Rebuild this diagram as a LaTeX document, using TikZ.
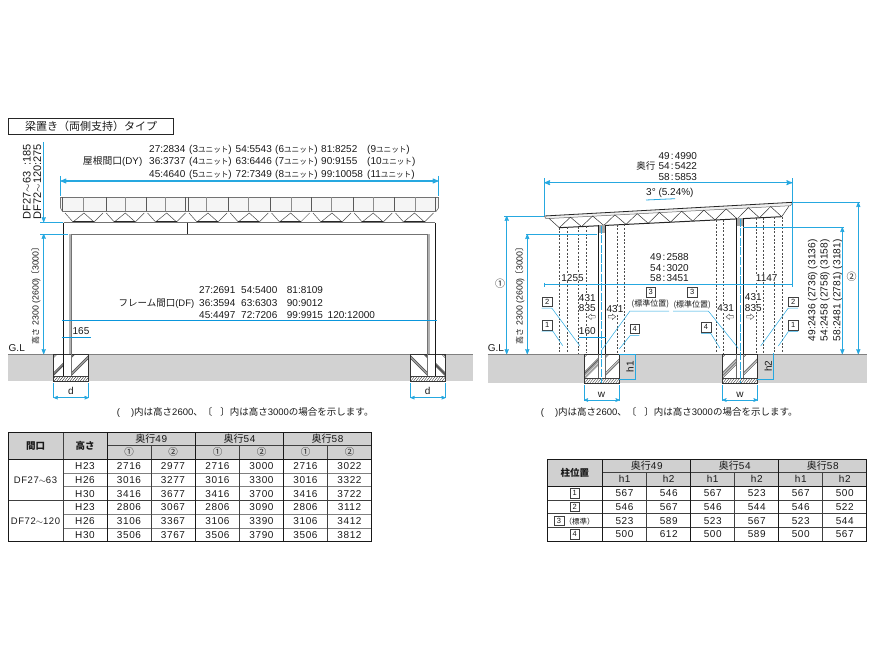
\documentclass[tikz,border=0pt]{standalone}
\usepackage{fontspec}
\setmainfont{Liberation Sans}
\newfontfamily\jp{Noto Sans CJK JP}
\newfontfamily\tabfont[LetterSpace=6]{Liberation Sans}
\usetikzlibrary{arrows}
\definecolor{dimblue}{RGB}{38,168,224}
\definecolor{linkblue}{RGB}{10,150,220}
\definecolor{groundgray}{RGB}{210,210,210}
\definecolor{headgray}{RGB}{208,208,208}
\newcommand{\un}[1]{(#1{\jp\fontsize{7.6}{8}\selectfont ユニット})}
\newcommand{\cln}{\kern1.2pt:\kern1.2pt}
\newcommand{\wave}{\ensuremath{\sim}}
\newcommand{\heighttext}{{\jp\fontsize{8}{9}\selectfont 高さ} 2300 (2600){\jp\kern-1.5pt〔}3000{\jp〕\kern-1.5pt}}
\newcommand{\notetext}{(\hspace{11pt})\jp 内は高さ\rmfamily 2600\jp 、〔\hspace{8pt}〕内は高さ\rmfamily 3000\jp の場合を示します。}
\tikzstyle{lab}=[inner sep=0pt,anchor=west,text height=7.2pt,text depth=0pt,font=\fontsize{10}{10}\selectfont]
\tikzstyle{mid}=[lab,anchor=center]
\tikzstyle{turned}=[mid,rotate=90]
\tikzstyle{note}=[lab,font=\fontsize{9.5}{10}\selectfont]
\tikzstyle{cell}=[mid,font=\fontsize{10}{10}\selectfont\tabfont]
\tikzstyle{head}=[mid,font=\fontsize{9.5}{10}\selectfont\jp]
\tikzstyle{boxnum}=[rectangle,draw=black!75,fill=white,thin,minimum size=9.5pt,inner sep=0pt,font=\fontsize{7.5}{8}\selectfont]
\tikzstyle{dimline}=[draw=dimblue,line width=.8pt]
\tikzstyle{dimarrow}=[dimline,<->,>=stealth']
\tikzstyle{leader}=[draw=dimblue,line width=.5pt]
\tikzstyle{hideline}=[draw=black!70,line width=.4pt,dash pattern=on 2pt off 1.6pt]
\tikzstyle{hatchline}=[draw=black!75,line width=.4pt]
\tikzstyle{thickrule}=[draw=black!90,line width=1pt]
\tikzstyle{thinrule}=[draw=black!75,line width=.5pt]
\tikzstyle{hollowtip}=[draw=black!75,fill=white,line width=.4pt]
% footing: left, post left, post right, right, bottom, direction
\newcommand{\footing}[6]{%
  \fill[white] (#1,354) rectangle (#4,#5);
  \begin{scope}
    \clip (#1,#5-5) rectangle (#4,#5);
    \foreach \h in {0,2.6,...,40}
      \draw[hatchline] (#1+\h-2,#5) -- (#1+\h+2,#5-5);
  \end{scope}
  \begin{scope}
    \clip (#1,354) rectangle (#2,#5-5) (#3,354) rectangle (#4,#5-5);
    \foreach \k in {2,3.6,18.5,20,21.5}{
      \ifnum#6=1
        \draw[hatchline] (#1+\k,354) -- (#1+\k-30,384);
        \draw[hatchline] (#3+\k,354) -- (#3+\k-30,384);
      \else
        \draw[hatchline] (#4-\k,354) -- (#4-\k+30,384);
        \draw[hatchline] (#2-\k,354) -- (#2-\k+30,384);
      \fi
    }
  \end{scope}
  \draw[hatchline] (#1,#5-5) -- (#4,#5-5);
  \draw[draw=black!80,line width=.7pt] (#1,354) rectangle (#4,#5);
}
\begin{document}
\begin{tikzpicture}[x=1pt,y=-1pt,every node/.append style={text=black!90}]
  \useasboundingbox (0,0) rectangle (880,660);

  % ---- left view ----
  \node[rectangle,draw=black!85,thin,minimum width=165pt,minimum height=16.5pt,inner sep=0pt,font=\fontsize{11}{11}\selectfont\jp] (title) at (91,126.3) {梁置き（両側支持）タイプ};

  \foreach \yy/\aa/\ua/\bb/\ub/\cc/\uc in {149/27:2834/3/54:5543/6/81:8252/9,161/36:3737/4/63:6446/7/90:9155/10,173.5/45:4640/5/72:7349/8/99:10058/11}{
    \node[lab] (dya\ua) at (149,\yy) {\aa};
    \node[lab] (dyu\ua) at (189,\yy) {\un{\ua}};
    \node[lab] (dyb\ub) at (235.5,\yy) {\bb};
    \node[lab] (dyu\ub) at (275,\yy) {\un{\ub}};
    \node[lab] (dyc\uc) at (321,\yy) {\cc};
    \node[lab] (dyu\uc) at (367,\yy) {\un{\uc}};
  }
  \node[lab,anchor=east,font=\fontsize{9.8}{10}\selectfont] (dyname) at (142.5,161) {{\jp 屋根間口}(DY)};

  \foreach \yy/\aa/\ua/\bb/\ub/\cc/\uc in {290/27:2691/1/54:5400/2/81:8109/3,302.7/36:3594/4/63:6303/5/90:9012/6,315/45:4497/7/72:7206/8/99:9915/9}{
    \node[lab] (dfa\ua) at (199,\yy) {\aa};
    \node[lab] (dfb\ub) at (241,\yy) {\bb};
    \node[lab] (dfc\uc) at (286.7,\yy) {\cc};
  }
  \node[lab] (dflast) at (327.5,315) {120:12000};
  \node[lab,anchor=east,font=\fontsize{9.5}{10}\selectfont] (dfname) at (194.5,302.7) {{\jp フレーム間口}(DF)};

  \node[turned,font=\fontsize{11}{11}\selectfont] (dfone) at (27,181.5) {DF27\wave 63\phantom{1}:185};
  \node[turned,font=\fontsize{11}{11}\selectfont] (dftwo) at (37.5,181.5) {DF72\wave 120:275};
  \node[turned,font=\fontsize{8.8}{10}\selectfont] (heighta) at (35,294) {\heighttext};

  % roof panel
  \draw[draw=black!55,line width=.6pt,fill=black!4] (60.5,197.5) -- (438.5,197.5) -- (438.5,208) -- (436,211.5) -- (62.5,211.5) -- (60.5,208) -- cycle;
  \foreach \x in {83.3,125,165.7,206.7,248,291.7,331.7,373.3,415}
    \draw[draw=black!45,line width=1pt] (\x,197.5) -- (\x,211.5);
  \foreach \x in {62.5,106,146.7,185,188.3,228,270,311.7,353.3,394,435}
    \draw[draw=black!65,line width=.6pt] (\x,197.5) -- (\x,211.5);
  % trusses
  \foreach \x in {73,114.3,155.6,197,238.3,279.6,321,362.2,403.5}{
    \draw[draw=black!70,line width=.5pt] (\x-8,213) -- (\x,222) -- (\x+11,213) -- (\x+21,222) -- (\x+30,213);
    \draw[draw=black!85,line width=1.3pt] (\x,222) -- (\x+21,222);
  }
  % beam
  \draw[draw=black!55,line width=.9pt] (63.5,222.7) -- (435,222.7);
  \draw[draw=black!55,line width=.9pt] (71.5,234) -- (427.5,234);
  \draw[draw=black!85,line width=.8pt] (187,222.7) -- (187,234);

  % ground and posts
  \fill[groundgray] (8.3,354) rectangle (472.7,381);
  \draw[draw=black!50,line width=1pt] (8.3,354) -- (472.7,354);
  \footing{53.7}{63.5}{71.5}{88.7}{381}{1}
  \footing{410.3}{427.5}{435}{445}{381}{-1}
  \fill[black!30] (69,234) rectangle (71.5,354);
  \fill[black!30] (427.5,234) rectangle (430,354);
  \draw[draw=black!90,line width=.9pt] (63.5,222.7) -- (63.5,376);
  \draw[draw=black!55,line width=.5pt] (71.5,234) -- (71.5,376);
  \draw[draw=black!90,line width=.9pt] (435,222.7) -- (435,376);
  \draw[draw=black!55,line width=.5pt] (427.5,234) -- (427.5,376);
  \node[lab] (glleft) at (8.5,348) {G.L};

  % dimensions
  \draw[dimarrow,line width=1.1pt] (60.5,181) -- (438.5,181);
  \draw[dimline] (60.5,176) -- (60.5,196);
  \draw[dimline] (438.5,176) -- (438.5,196);
  \draw[dimline,->,>=stealth'] (43.7,142) -- (43.7,222);
  \draw[dimarrow] (43.7,234) -- (43.7,354);
  \draw[dimline] (40,222.5) -- (63,222.5);
  \draw[dimline] (40,234) -- (68,234);
  \draw[draw=linkblue,line width=.8pt] (62,320.5) -- (437,320.5);
  \draw[draw=linkblue,line width=.8pt] (62,337.5) -- (91,337.5);
  \node[mid] (dimpost) at (81,331) {165};
  \draw[dimarrow,line width=.6pt] (53.7,397.7) -- (88.7,397.7);
  \draw[dimline,line width=.6pt] (53.7,383) -- (53.7,398);
  \draw[dimline,line width=.6pt] (88.7,383) -- (88.7,398);
  \node[mid] (dleft) at (71,391) {d};
  \draw[dimarrow,line width=.6pt] (410.5,397.7) -- (445.7,397.7);
  \draw[dimline,line width=.6pt] (410.5,383) -- (410.5,398);
  \draw[dimline,line width=.6pt] (445.7,383) -- (445.7,398);
  \node[mid] (dright) at (427.7,391) {d};
  \node[note] (noteleft) at (116.7,412.3) {\notetext};

  % ---- right view ----
  \node[lab] (dta) at (658.3,156) {49\cln 4990};
  \node[lab] (dtb) at (658.3,166.3) {54\cln 5422};
  \node[lab] (dtc) at (658.3,176.7) {58\cln 5853};
  \node[lab,anchor=east,font=\fontsize{9.5}{10}\selectfont\jp] (dtname) at (655.5,166.3) {奥行};
  \node[lab] (slope) at (646,191.7) {3° (5.24\%)};
  \draw[dimline] (646,200) -- (675,198.7);
  \node[lab] (spa) at (650,257.3) {49\cln 2588};
  \node[lab] (spb) at (650,267.7) {54\cln 3020};
  \node[lab] (spc) at (650,278) {58\cln 3451};

  \node[turned,font=\fontsize{10.2}{10}\selectfont] (hna) at (811.7,290.3) {49:2436 (2736) (3136)};
  \node[turned,font=\fontsize{10.2}{10}\selectfont] (hnb) at (824,290.3) {54:2458 (2758) (3158)};
  \node[turned,font=\fontsize{10.2}{10}\selectfont] (hnc) at (836.7,290.3) {58:2481 (2781) (3181)};
  \node[turned,font=\fontsize{8.8}{10}\selectfont] (heightb) at (519,294) {\heighttext};
  \node[mid,font=\fontsize{10}{10}\selectfont\jp] (cira) at (500,284) {①};
  \node[mid,font=\fontsize{10}{10}\selectfont\jp] (cirb) at (851.7,277.3) {②};

  % sloped roof
  \fill[black!6] (544.3,216) -- (792.7,202.3) -- (790.5,205.7) -- (546,218.7) -- cycle;
  \draw[draw=black!85,line width=.8pt] (544.3,216) -- (792.7,202.3);
  \draw[draw=black!60,line width=.5pt] (546,218.7) -- (790.5,205.7) -- (792.7,202.3);
  \draw[draw=black!60,line width=.5pt] (544.3,216) -- (546,218.7);
  \foreach \i in {0,...,9}{
    \pgfmathsetmacro{\xa}{559.3+22.24*\i}
    \pgfmathsetmacro{\xb}{\xa+11.12}
    \pgfmathsetmacro{\xc}{\xa+22.24}
    \draw[draw=black!80,line width=.5pt] (\xa,{227.7-(\xa-559.3)*0.0495}) -- (\xb,{218.5-(\xb-546)*0.0533}) -- (\xc,{227.7-(\xc-559.3)*0.0495});
  }
  \draw[draw=black!80,line width=.5pt] (549,218.4) -- (559.3,227.7);
  \draw[draw=black!80,line width=.5pt] (781.7,216.7) -- (789,206);
  \draw[draw=black!85,line width=1pt] (559.3,227.7) -- (781.7,216.7);

  % hidden lines
  \foreach \x in {559.3,566.7,577.7,585.7,617.3,624.3,716,723.3,756,763.3,774.3,781.7}
    \draw[hideline] (\x,{227.7-(\x-559.3)*0.0495}) -- (\x,353);

  % ground and posts
  \fill[groundgray] (487.7,354) rectangle (866.7,383.3);
  \draw[draw=black!50,line width=1pt] (487.7,354) -- (866.7,354);
  \footing{584}{598.3}{605.7}{619}{383}{1}
  \footing{722.3}{736.7}{743.3}{757.3}{383}{1}
  \foreach \xl/\xr/\yt in {598.3/605.7/225,736.7/743.3/218}{
    \fill[white] (\xl,\yt) rectangle (\xr,354);
    \fill[black!35] (\xl,\yt) rectangle (\xr,\yt+8);
    \draw[draw=black!90,line width=1.3pt] (\xl,\yt) -- (\xl,354);
    \draw[draw=black!90,line width=1.3pt] (\xr,\yt) -- (\xr,354);
    \draw[draw=black!60,line width=.5pt] (\xl,354) -- (\xl,378);
    \draw[draw=black!60,line width=.5pt] (\xr,354) -- (\xr,378);
  }
  \draw[dimline,line width=.6pt,dash pattern=on 8pt off 1.5pt] (601.7,226) -- (601.7,383);
  \draw[dimline,line width=.6pt,dash pattern=on 8pt off 1.5pt] (740,219) -- (740,383);
  \node[lab] (glright) at (487.7,348.3) {G.L};

  % dimensions
  \draw[dimarrow,line width=1.1pt] (544.3,182.7) -- (792.3,182.7);
  \draw[dimline] (544.3,178.3) -- (544.3,216);
  \draw[dimline] (544.3,282.5) -- (544.3,286.5);
  \draw[dimline] (792.3,178.3) -- (792.3,287);
  \draw[dimline] (544.3,284.3) -- (792.3,284.3);
  \draw[dimline] (504,216) -- (544,216);
  \draw[dimline] (526,234.3) -- (597.3,234.3);
  \draw[dimline] (743.3,227.3) -- (844,227.3);
  \draw[dimline] (793,202.3) -- (860,202.3);
  \draw[dimarrow] (506.7,216) -- (506.7,354);
  \draw[dimarrow] (527.3,234.3) -- (527.3,354);
  \draw[dimarrow] (842.3,227.3) -- (842.3,354);
  \draw[dimarrow] (858.3,202.3) -- (858.3,354);
  \draw[draw=linkblue,line width=.8pt] (579.3,337.3) -- (606,337.3);
  \node[mid,fill=white] (overl) at (572.5,277.7) {1255};
  \node[mid,fill=white] (overr) at (766.7,277.7) {1147};
  \node[mid,fill=white] (dimpostb) at (587.3,330.7) {160};
  \node[mid,fill=white] (ta) at (587.3,297.7) {431};
  \node[mid,fill=white] (tb) at (587.3,308.3) {835};
  \node[mid,fill=white] (tc) at (615,309.3) {431};
  \node[mid,fill=white] (td) at (725.7,308.3) {431};
  \node[mid,fill=white] (te) at (753.3,297.3) {431};
  \node[mid,fill=white] (tf) at (753.3,308.3) {835};
  % hollow arrows
  \foreach \x/\s in {591.7/-1,611.7/1,730/-1,750/1}
    \draw[hollowtip] (\x+\s*4,316.8) -- (\x+\s*.5,314) -- (\x+\s*.5,315.6) -- (\x-\s*3.5,315.6) -- (\x-\s*3.5,318) -- (\x+\s*.5,318) -- (\x+\s*.5,319.6) -- cycle;

  \draw[dimarrow,line width=.6pt] (584,400) -- (619.7,400);
  \draw[dimline,line width=.6pt] (584,385) -- (584,401);
  \draw[dimline,line width=.6pt] (619.7,385) -- (619.7,401);
  \node[mid] (wleft) at (601.5,394) {w};
  \draw[dimarrow,line width=.6pt] (722.3,400) -- (757.7,400);
  \draw[dimline,line width=.6pt] (722.3,385) -- (722.3,401);
  \draw[dimline,line width=.6pt] (757.7,385) -- (757.7,401);
  \node[mid] (wright) at (740,394) {w};
  \draw[dimline] (619,354) -- (635.3,354) -- (635.3,379.3) -- (619,379.3);
  \node[turned] (hone) at (630,366.7) {h1};
  \draw[dimline] (757.3,379) -- (773.7,379) -- (773.7,352.7);
  \node[turned] (htwo) at (768.3,366.3) {h2};
  \node[note] (noteright) at (540.7,412.3) {\notetext};

  % position marks and leaders
  \node[boxnum] (posa) at (547.3,325) {1};
  \node[boxnum] (posb) at (547.3,301.7) {2};
  \node[boxnum] (posd) at (634.7,328.7) {4};
  \node[boxnum] (posc) at (650.7,292) {3};
  \node[boxnum] (pose) at (692.3,292) {3};
  \node[boxnum] (posf) at (706,327.3) {4};
  \node[boxnum] (posg) at (793.3,301.7) {2};
  \node[boxnum] (posh) at (793.3,325) {1};
  \node[mid,font=\fontsize{8}{9}\selectfont\jp] (stda) at (650.3,303.3) {(標準位置)};
  \node[mid,font=\fontsize{8}{9}\selectfont\jp] (stdb) at (692.2,303.5) {(標準位置)};
  \draw[leader] (552.7,331) -- (541.7,331) (552.7,331) -- (562.7,345.7);
  \draw[leader] (541.7,308) -- (551.7,308) -- (580,346);
  \draw[leader] (639.3,335.7) -- (630,335.7) -- (619.3,349);
  \draw[leader] (669,311) -- (630,311) -- (601.7,350);
  \draw[leader] (673,311) -- (708.3,311) -- (738.3,348.3);
  \draw[leader] (701,333.3) -- (710.7,333.3) -- (720,348.3);
  \draw[leader] (798,308) -- (788.3,308) -- (760.7,346);
  \draw[leader] (798,331.7) -- (788.3,331.7) -- (778.3,346);

  % ---- left table ----
  \fill[headgray] (8,432) rectangle (371,459);
  \foreach \yy in {472.8,486.5,514,527.9}
    \draw[draw=black!50,line width=.6pt] (63,\yy) -- (371,\yy);
  \draw[thinrule] (8,500.3) -- (371,500.3);
  \draw[thinrule] (107,445) -- (371,445);
  \foreach \x in {151,239.5,327.5}
    \draw[thinrule] (\x,445) -- (\x,541.7);
  \draw[thinrule] (63,432) -- (63,541.7);
  \foreach \x in {107,195.5,283.5}
    \draw[thickrule] (\x,432) -- (\x,541.7);
  \draw[thickrule] (8,459) -- (371,459);
  \draw[thickrule] (8,432) rectangle (371,541.7);
  \node[head,font=\fontsize{9.5}{10}\selectfont\jp\bfseries] (colopen) at (35.5,445.5) {間口};
  \node[head,font=\fontsize{9.5}{10}\selectfont\jp\bfseries] (colhigh) at (85,445.5) {高さ};
  \foreach \x/\nm in {151.2/49,239.5/54,327.5/58}{
    \node[mid,font=\fontsize{10}{10}\selectfont\tabfont] (hd\nm) at (\x,438.7) {{\jp 奥行}\nm};
    \node[head] (hda\nm) at (\x-22,452) {①};
    \node[head] (hdb\nm) at (\x+22,452) {②};
  }
  \node[cell,font=\fontsize{9.5}{10}\selectfont\tabfont] (gpa) at (35.5,479.7) {DF27\wave 63};
  \node[cell,font=\fontsize{9.5}{10}\selectfont\tabfont] (gpb) at (35.5,521) {DF72\wave 120};
  \foreach \yy/\hh/\va/\vb/\vc/\vd/\ve/\vf in {465.9/H23/2716/2977/2716/3000/2716/3022,479.7/H26/3016/3277/3016/3300/3016/3322,493.4/H30/3416/3677/3416/3700/3416/3722,507.2/H23/2806/3067/2806/3090/2806/3112,521/H26/3106/3367/3106/3390/3106/3412,534.8/H30/3506/3767/3506/3790/3506/3812}{
    \node[cell] at (85,\yy) {\hh};
    \node[cell] at (129,\yy) {\va};
    \node[cell] at (173,\yy) {\vb};
    \node[cell] at (217.5,\yy) {\vc};
    \node[cell] at (261.5,\yy) {\vd};
    \node[cell] at (305.5,\yy) {\ve};
    \node[cell] at (349.5,\yy) {\vf};
  }

  % ---- right table ----
  \fill[headgray] (547.3,459.3) rectangle (866.7,486);
  \foreach \yy in {500,513.7,527.3}
    \draw[thinrule] (547.3,\yy) -- (866.7,\yy);
  \draw[thinrule] (602.3,472.7) -- (866.7,472.7);
  \foreach \x in {646.7,734.7,822.7}
    \draw[thinrule] (\x,472.7) -- (\x,541.3);
  \foreach \x in {602.3,690.7,778.7}
    \draw[thickrule] (\x,459.3) -- (\x,541.3);
  \draw[thickrule] (547.3,486) -- (866.7,486);
  \draw[thickrule] (547.3,459.3) rectangle (866.7,541.3);
  \node[head,font=\fontsize{9.5}{10}\selectfont\jp\bfseries] (colpos) at (574.8,472.7) {柱位置};
  \foreach \x/\nm in {646.7/49,734.7/54,822.7/58}{
    \node[mid,font=\fontsize{10}{10}\selectfont\tabfont] (ht\nm) at (\x,466) {{\jp 奥行}\nm};
    \node[cell] (hta\nm) at (\x-22,479.3) {h1};
    \node[cell] (htb\nm) at (\x+22,479.3) {h2};
  }
  \node[boxnum] (rwa) at (574.8,493) {1};
  \node[boxnum] (rwb) at (574.8,506.8) {2};
  \node[boxnum] (rwc) at (559,520.5) {3};
  \node[lab,font=\fontsize{7.5}{8}\selectfont\jp] (rwt) at (564.5,520.5) {（標準）};
  \node[boxnum] (rwd) at (574.8,534.3) {4};
  \foreach \yy/\va/\vb/\vc/\vd/\ve/\vf in {493/567/546/567/523/567/500,506.8/546/567/546/544/546/522,520.5/523/589/523/567/523/544,534.3/500/612/500/589/500/567}{
    \node[cell] at (624.5,\yy) {\va};
    \node[cell] at (668.7,\yy) {\vb};
    \node[cell] at (712.7,\yy) {\vc};
    \node[cell] at (756.7,\yy) {\vd};
    \node[cell] at (800.7,\yy) {\ve};
    \node[cell] at (844.7,\yy) {\vf};
  }
\end{tikzpicture}
\end{document}
